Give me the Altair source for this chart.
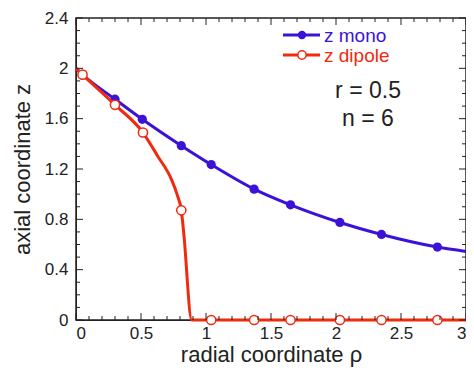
import altair as alt
import pandas as pd

# data
mono_x = [0.0, 0.05, 0.30, 0.51, 0.81, 1.04, 1.37, 1.65, 2.03, 2.35, 2.78, 3.0]
mono_y = [2.0, 1.95, 1.755, 1.595, 1.385, 1.235, 1.04, 0.915, 0.775, 0.68, 0.58, 0.545]
mono_mark = [False, True, True, True, True, True, True, True, True, True, True, False]

dip_line_x = [0.0, 0.05, 0.30, 0.515, 0.63, 0.733, 0.78, 0.81, 0.828, 0.89, 3.0]
dip_line_y = [2.0, 1.95, 1.71, 1.49, 1.30, 1.12, 0.99, 0.872, 0.70, 0.0, 0.0]
dip_pts_x = [0.05, 0.30, 0.515, 0.81, 1.04, 1.37, 1.65, 2.03, 2.35, 2.78]
dip_pts_y = [1.95, 1.71, 1.49, 0.872, 0.0, 0.0, 0.0, 0.0, 0.0, 0.0]

x_major = [0, 0.5, 1, 1.5, 2, 2.5, 3]
x_minor = [0.1, 0.2, 0.3, 0.4, 0.6, 0.7, 0.8, 0.9, 1.1, 1.2, 1.3, 1.4,
           1.6, 1.7, 1.8, 1.9, 2.1, 2.2, 2.3, 2.4, 2.6, 2.7, 2.8, 2.9]
y_major = [0, 0.4, 0.8, 1.2, 1.6, 2.0, 2.4]
y_minor = [0.1, 0.2, 0.3, 0.5, 0.6, 0.7, 0.9, 1.0, 1.1, 1.3, 1.4, 1.5,
           1.7, 1.8, 1.9, 2.1, 2.2, 2.3]

legend_labels = ["z mono", "z dipole"]
annotations = ["r = 0.5", "n = 6"]

BLUE = "#3c12d8"
RED = "#f02a0e"
W, H = 390, 302
FONT = "Liberation Sans"

xs = alt.Scale(domain=[0, 3], nice=False, zero=False)
ys = alt.Scale(domain=[0, 2.4], nice=False, zero=False)

mono_df = pd.DataFrame({"x": mono_x, "y": mono_y, "m": mono_mark})
dip_line_df = pd.DataFrame({"x": dip_line_x, "y": dip_line_y})
dip_pts_df = pd.DataFrame({"x": dip_pts_x, "y": dip_pts_y})

X = alt.X("x:Q", scale=xs, title="radial coordinate ρ",
          axis=alt.Axis(values=x_major, ticks=False, grid=False, labelFontSize=17,
                        titleFontSize=22, titleFontWeight="normal", labelPadding=5,
                        titlePadding=3, labelFont=FONT, titleFont=FONT,
                        labelColor="#222", titleColor="#222", domainColor="#222",
                        labelExpr="datum.value == 0 ? '0' : format(datum.value, '.2~f')"))
Y = alt.Y("y:Q", scale=ys, title="axial coordinate z",
          axis=alt.Axis(values=y_major, ticks=False, grid=False, labelFontSize=17,
                        titleFontSize=22, titleFontWeight="normal", labelPadding=8,
                        titlePadding=10, labelFont=FONT, titleFont=FONT,
                        labelColor="#222", titleColor="#222", domainColor="#222",
                        labelExpr="format(datum.value, '.2~f')"))

mono_line = alt.Chart(mono_df).mark_line(color=BLUE, strokeWidth=3, interpolate="monotone").encode(x=X, y=Y)
mono_pts = alt.Chart(mono_df).transform_filter("datum.m").mark_point(
    shape="circle", filled=True, color=BLUE, size=85, opacity=1).encode(x="x:Q", y="y:Q")
dip_line = alt.Chart(dip_line_df).mark_line(color=RED, strokeWidth=3, interpolate="monotone").encode(x="x:Q", y="y:Q")
dip_pts = alt.Chart(dip_pts_df).mark_point(
    shape="circle", filled=True, fill="white", stroke=RED, strokeWidth=1.5, size=85, opacity=1
).encode(x="x:Q", y="y:Q")

def xt(vals, y0, y1):
    return alt.Chart(pd.DataFrame({"x": vals})).mark_rule(color="#222", strokeWidth=1).encode(
        x="x:Q", y=alt.value(y0), y2=alt.value(y1))

def yt(vals, x0, x1):
    return alt.Chart(pd.DataFrame({"y": vals})).mark_rule(color="#222", strokeWidth=1).encode(
        y="y:Q", x=alt.value(x0), x2=alt.value(x1))

ticks = [
    xt(x_major, H, H - 7), xt(x_minor, H, H - 4),
    xt(x_major, 0, 7), xt(x_minor, 0, 4),
    yt(y_major, 0, 7), yt(y_minor, 0, 4),
    yt(y_major, W, W - 7), yt(y_minor, W, W - 4),
]

leg = []
for i, (lab, c) in enumerate(zip(legend_labels, [BLUE, RED])):
    yy = 17 + 20 * i
    d = pd.DataFrame({"lab": [lab]})
    leg.append(alt.Chart(d).mark_rule(color=c, strokeWidth=3).encode(
        x=alt.value(207), x2=alt.value(244), y=alt.value(yy)))
    if i == 0:
        leg.append(alt.Chart(d).mark_point(shape="circle", filled=True, color=c, size=70, opacity=1).encode(
            x=alt.value(226), y=alt.value(yy)))
    else:
        leg.append(alt.Chart(d).mark_point(shape="circle", filled=True, fill="white", stroke=c,
                                           strokeWidth=1.5, size=70, opacity=1).encode(
            x=alt.value(226), y=alt.value(yy)))
    leg.append(alt.Chart(d).mark_text(color=c, fontSize=19, font=FONT, align="left",
                                      baseline="middle").encode(
        x=alt.value(248), y=alt.value(yy + 1), text="lab:N"))

ann = []
for i, t in enumerate(annotations):
    ann.append(alt.Chart(pd.DataFrame({"t": [t]})).mark_text(
        fontSize=23, font=FONT, color="#222", align="center", baseline="middle"
    ).encode(x=alt.value(292), y=alt.value(73 + 28 * i), text="t:N"))

chart = alt.layer(mono_line, mono_pts, dip_line, dip_pts, *ticks, *leg, *ann).properties(
    width=W, height=H,
    autosize=alt.AutoSizeParams(type="none"),
    padding={"left": 68, "top": 10, "right": 0, "bottom": 49},
).configure_view(stroke="#222", strokeWidth=1.5)

chart.save("out.html", embed_options={"renderer": "svg", "actions": False})
